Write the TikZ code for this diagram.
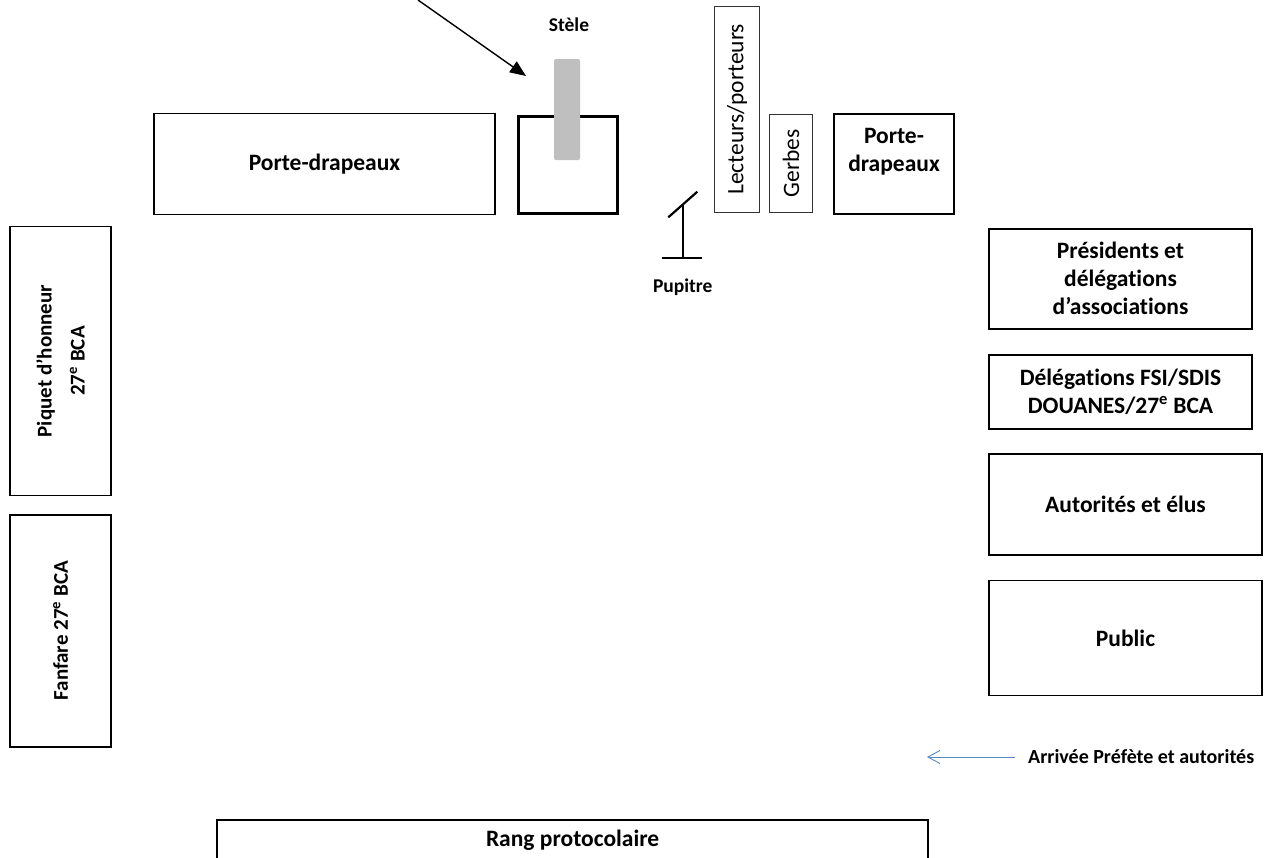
\documentclass[tikz,border=0pt]{standalone}
\usepackage{fontspec}
\setmainfont{Carlito}[Ligatures=NoCommon]
\usepackage{tikz}
\usetikzlibrary{arrows.meta}
\definecolor{gris}{HTML}{BFBFBF}
\definecolor{bleu}{HTML}{5B87C5}
\tikzstyle{zone} = [draw, line width=1.8pt, inner sep=0pt, align=center, font=\bfseries\fontsize{23.5}{28}\selectfont]
\tikzstyle{zonefine} = [draw=black!80, line width=0.9pt, inner sep=0pt, font=\fontsize{23.5}{28}\selectfont]
\tikzstyle{zonegauche} = [zone, rotate=90, font=\bfseries\fontsize{21}{33}\selectfont]
\tikzstyle{etiquette} = [inner sep=0pt, align=center, font=\bfseries\fontsize{19.5}{24}\selectfont]
\tikzstyle{fl} = [-{Triangle[length=16pt,width=13pt]}, line width=1.4pt]

\begin{document}
\begin{tikzpicture}[yscale=-1]
			\useasboundingbox (0pt,0pt) rectangle (1274pt,857pt);
			% rangee du haut
			\node[zone, minimum width=341pt, minimum height=101pt] (porteG) at (324.5pt,164pt) {Porte-drapeaux};
			\node[zone, line width=3pt, minimum width=99.3pt, minimum height=97pt] (stelebox) at (567.9pt,165pt) {};
			\node[fill=gris, rounded corners=2pt, inner sep=0pt, minimum width=26pt, minimum height=101pt] (stele) at (567pt,109.5pt) {};
			\node[etiquette] (stelelbl) at (569pt,25pt) {Stèle};
			\node[zonefine, rotate=90, minimum width=206.7pt, minimum height=44.3pt] (lecteurs) at (737pt,109.3pt) {Lecteurs/porteurs};
			\node[zonefine, rotate=90, minimum width=98.7pt, minimum height=43.4pt] (gerbes) at (791pt,163.4pt) {Gerbes};
			\node[zone, minimum width=120pt, minimum height=100pt] (porteD) at (894pt,164pt) {};
			\node[zone, draw=none] (porteDlbl) at (894pt,152pt) {Porte-\\drapeaux};
			% pupitre
			\coordinate (pupitre) at (683.3pt,258.3pt);
			\draw[line width=2.2pt] (661.7pt,258.3pt) -- (701.7pt,258.3pt);
			\draw[line width=2.2pt] (pupitre) -- (683.3pt,204pt);
			\draw[line width=2.2pt] (668.3pt,217.3pt) -- (697.3pt,191.7pt);
			\node[etiquette] (pupitrelbl) at (682.7pt,286.7pt) {Pupitre};
			% colonne de droite
			\node[zone, minimum width=263pt, minimum height=100pt] (presidents) at (1120.5pt,278.8pt) {Présidents et\\délégations\\d’associations};
			\node[zone, minimum width=263pt, minimum height=74pt] (delegations) at (1120.5pt,391.7pt) {Délégations FSI/SDIS\\DOUANES/27\textsuperscript{e} BCA};
			\node[zone, minimum width=273pt, minimum height=101pt] (autorites) at (1125.5pt,504.7pt) {Autorités et élus};
			\node[zone, minimum width=273pt, minimum height=115pt] (public) at (1125.5pt,638pt) {Public};
			% colonne de gauche
			\node[zonegauche, minimum width=269pt, minimum height=101pt] (piquet) at (60.5pt,361pt) {Piquet d’honneur\\27\textsuperscript{e} BCA};
			\node[zonegauche, minimum width=232pt, minimum height=101pt] (fanfare) at (60.5pt,630.7pt) {Fanfare 27\textsuperscript{e} BCA};
			% rang du bas
			\node[zone, minimum width=711pt, minimum height=40pt] (rang) at (572.6pt,840pt) {Rang protocolaire};
			% fleches
			\coordinate (depart) at (418pt,0pt);
			\coordinate (pointe) at (526pt,76pt);
			\draw[fl] (depart) -- (pointe);
			\node[etiquette, font=\bfseries\fontsize{20}{24}\selectfont, anchor=west, inner xsep=13pt] (arrivee) at (1015pt,757pt) {Arrivée Préfète et autorités};
			\coordinate (arrfin) at (927pt,757pt);
			\draw[bleu, line width=0.9pt, -{Straight Barb[length=12pt,width=13pt]}] (arrivee.west) -- (arrfin);
		\end{tikzpicture}
\end{document}
